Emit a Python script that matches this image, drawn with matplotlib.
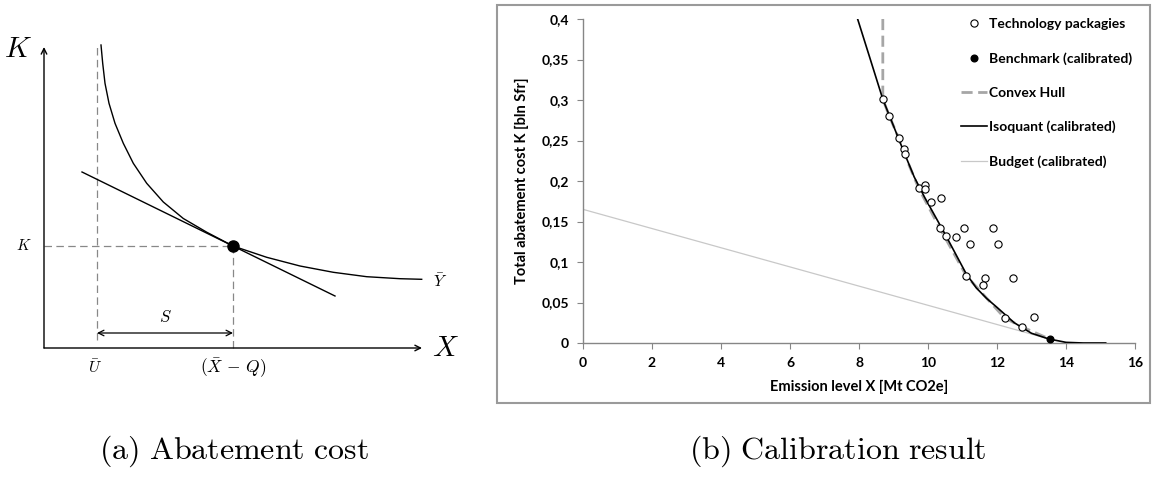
import matplotlib
matplotlib.use('Agg')
import matplotlib.pyplot as plt
from matplotlib.patches import Rectangle

plt.rcParams['mathtext.fontset'] = 'cm'

# ---- panel (a): schematic, arbitrary units
curve_x = [57, 58.7, 61, 65, 71, 79.3, 89.3, 102.7, 119.3, 139.3, 162.7, 189,
           222.7, 256, 289.3, 322.7, 356, 377.7]
curve_y = [303, 284.7, 264.7, 244.7, 224.7, 204.7, 184.7, 164.7, 146, 129.5, 115.8, 102,
           90.7, 82, 75.7, 71.3, 69.3, 68.7]
tangent_x = [38, 291]
tangent_y = [176, 52]
u_bar = 53
opt_x, opt_k = 189, 102
x_end, k_end = 378, 301

# ---- panel (b): calibration data
tech_x = [8.69, 8.88, 9.15, 9.29, 9.32, 9.73, 9.92, 9.90, 10.09, 10.37, 10.34, 10.52,
          10.82, 11.04, 11.21, 11.87, 12.03, 11.11, 11.64, 11.58, 12.46, 12.22, 13.06, 12.72]
tech_y = [0.301, 0.280, 0.253, 0.239, 0.233, 0.191, 0.195, 0.190, 0.174, 0.179, 0.142, 0.132,
          0.131, 0.142, 0.122, 0.142, 0.122, 0.083, 0.080, 0.072, 0.080, 0.031, 0.032, 0.020]
bench_x = [13.54]
bench_y = [0.0046]
hull_x = [8.69, 8.69, 8.88, 9.15, 9.32, 9.73, 10.34, 11.11, 12.22, 12.72, 13.54]
hull_y = [0.40, 0.301, 0.280, 0.253, 0.233, 0.191, 0.142, 0.083, 0.031, 0.020, 0.0046]
iso_x = [7.96, 8.3, 8.69, 9.0, 9.3, 9.6, 9.9, 10.2, 10.5, 10.8, 11.1, 11.4, 11.7, 12.0,
         12.5, 13.0, 13.5, 14.0, 14.5, 15.15]
iso_y = [0.400, 0.354, 0.301, 0.268, 0.236, 0.205, 0.180, 0.157, 0.134, 0.110, 0.086, 0.068,
         0.055, 0.044, 0.025, 0.012, 0.005, 0.0008, 0.0, 0.0]
budget_x = [0, 13.54]
budget_y = [0.165, 0.0046]
xticks = [0, 2, 4, 6, 8, 10, 12, 14, 16]
yticks = [0, 0.05, 0.1, 0.15, 0.2, 0.25, 0.3, 0.35, 0.4]
ytick_labels = ['0', '0,05', '0,1', '0,15', '0,2', '0,25', '0,3', '0,35', '0,4']

W, H = 1161, 480
fig = plt.figure(figsize=(W / 100, H / 100), dpi=100)

# ================= (a)
ax = fig.add_axes([0, 0, 470 / W, 1])
ax.set_xlim(-44, 426)
ax.set_ylim(348 - H, 348)
ax.axis('off')

ax.annotate('', xy=(0, k_end), xytext=(0, 0),
            arrowprops=dict(arrowstyle='->', lw=1.0, color='black', shrinkA=0, shrinkB=0))
ax.annotate('', xy=(x_end, 0), xytext=(0, 0),
            arrowprops=dict(arrowstyle='->', lw=1.0, color='black', shrinkA=0, shrinkB=0))

dash = dict(color='#888888', lw=0.9, dashes=(6, 3.5))
ax.plot([u_bar, u_bar], [8, 303], **dash)
ax.plot([0, opt_x], [opt_k, opt_k], **dash)
ax.plot([opt_x, opt_x], [0, opt_k], **dash)

ax.plot(curve_x, curve_y, color='black', lw=1.0)
ax.plot(tangent_x, tangent_y, color='black', lw=1.0)
ax.plot([opt_x], [opt_k], 'o', color='black', markersize=8)

ax.annotate('', xy=(u_bar, 15), xytext=(opt_x, 15),
            arrowprops=dict(arrowstyle='<->', lw=0.9, color='black', shrinkA=0, shrinkB=0))
ax.text((u_bar + opt_x) / 2, 31, r'$S$', fontsize=12, ha='center', va='center')

ax.text(-26, 299, r'$K$', fontsize=21, ha='center', va='center')
ax.text(401, 0, r'$X$', fontsize=21, ha='center', va='center')
ax.text(-20, 102, r'$K$', fontsize=11, ha='center', va='center')
ax.text(396, 67, r'$\bar{Y}$', fontsize=11.5, ha='center', va='center')
ax.text(u_bar - 2, -19, r'$\bar{U}$', fontsize=11.5, ha='center', va='center')
ax.text(opt_x, -20, r'$(\bar{X}\,-\,Q)$', fontsize=12.5, ha='center', va='center')

# ================= (b)
fig.patches.append(Rectangle((497 / W, 1 - 403 / H), (1150 - 497) / W, (403 - 5) / H,
                             transform=fig.transFigure, fill=False,
                             edgecolor='#9a9a9a', lw=1.5))

bx = fig.add_axes([583 / W, 1 - 343 / H, 552 / W, 324 / H])
bx.set_xlim(0, 16)
bx.set_ylim(0, 0.4)
for s in ['top', 'right']:
    bx.spines[s].set_visible(False)
for s in ['left', 'bottom']:
    bx.spines[s].set_color('#868686')
    bx.spines[s].set_linewidth(1.0)

font = 'Lato'
bx.plot(budget_x, budget_y, color='#c8c8c8', lw=0.9, label='Budget (calibrated)', zorder=2)
bx.plot(hull_x, hull_y, color='#a6a6a6', lw=2.0, dashes=(4, 2), label='Convex Hull', zorder=3)
bx.plot(iso_x, iso_y, color='black', lw=1.2, label='Isoquant (calibrated)', zorder=4)
bx.plot(tech_x, tech_y, 'o', markerfacecolor='white', markeredgecolor='black',
        markersize=5.2, markeredgewidth=0.8, linestyle='none', label='Technology packagies', zorder=5)
bx.plot(bench_x, bench_y, 'o', color='black', markersize=4.8, linestyle='none',
        label='Benchmark (calibrated)', zorder=6)

bx.set_xticks(xticks)
bx.set_xticklabels([str(t) for t in xticks])
bx.set_yticks(yticks)
bx.set_yticklabels(ytick_labels)
bx.tick_params(direction='out', length=4, color='#868686', labelsize=10, pad=6)
for lab in bx.get_xticklabels() + bx.get_yticklabels():
    lab.set_fontfamily(font)
    lab.set_fontweight('bold')

bx.set_xlabel('Emission level X [Mt CO2e]', fontsize=10.5, fontweight='bold',
              family=font, labelpad=8)
bx.set_ylabel('Total abatement cost K [bln Sfr]', fontsize=10.5, fontweight='bold',
              family=font, labelpad=9)

h, l = bx.get_legend_handles_labels()
order = [3, 4, 1, 2, 0]
leg = bx.legend([h[i] for i in order], [l[i] for i in order],
                loc='upper left', bbox_to_anchor=(961 / W, 1 - 18 / H),
                bbox_transform=fig.transFigure, frameon=False,
                prop={'family': font, 'weight': 'bold', 'size': 10},
                labelspacing=1.58, handlelength=1.9, handletextpad=0.12,
                borderpad=0, borderaxespad=0)

fig.text(234 / W, 1 - 451 / H, r'$\mathrm{(a)\ Abatement\ cost}$', fontsize=23,
         ha='center', va='center')
fig.text(838 / W, 1 - 451 / H, r'$\mathrm{(b)\ Calibration\ result}$', fontsize=23,
         ha='center', va='center')

fig.savefig('out.png', dpi=100)
